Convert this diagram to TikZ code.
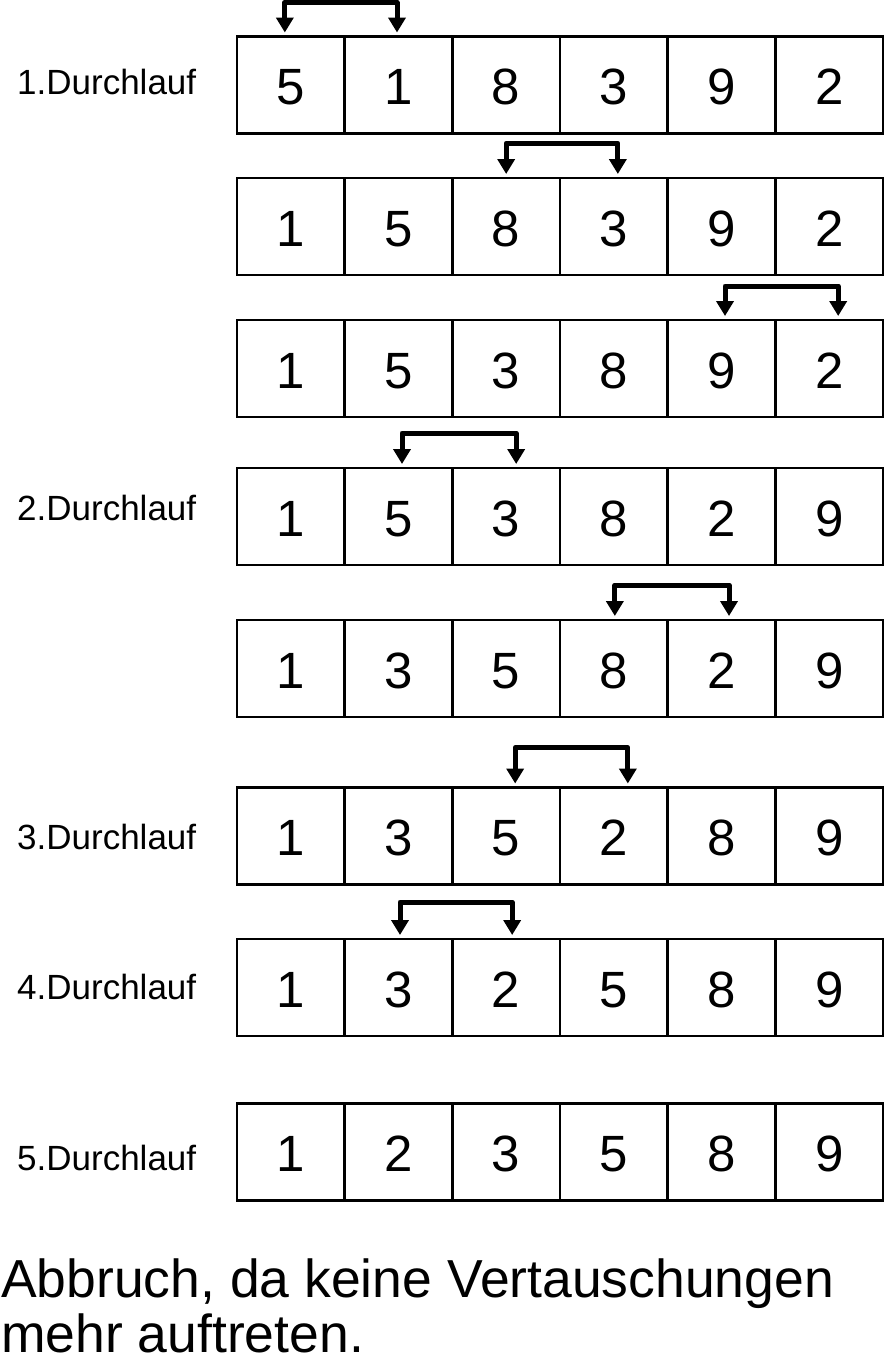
\documentclass[tikz,border=0pt]{standalone}
\usepackage{fontspec}
\setmainfont{Liberation Sans}
\usetikzlibrary{arrows.meta,calc}
\tikzset{
  cell/.style={draw, line width=2.8pt, minimum width=107.67pt, minimum height=97pt,
    inner sep=0pt, outer sep=0pt, text height=39pt, text depth=0pt,
    font=\fontsize{51}{51}\selectfont},
  passlabel/.style={anchor=base west, inner sep=0pt, font=\fontsize{35}{35}\selectfont},
  swp/.style={line width=5pt, line join=round,
    {Triangle[width=17pt,length=15pt]}-{Triangle[width=17pt,length=15pt]}},
  endtext/.style={anchor=base west, inner sep=0pt, font=\fontsize{53.5}{53.5}\selectfont}
}
\begin{document}
\begin{tikzpicture}[x=1pt,y=-1pt]
\useasboundingbox (0,0) rectangle (885,1361);
\foreach \r/\y/\vals in {1/85/{5,1,8,3,9,2}, 2/226.5/{1,5,8,3,9,2}, 3/368.5/{1,5,3,8,9,2},
  4/516.5/{1,5,3,8,2,9}, 5/668.5/{1,3,5,8,2,9}, 6/836/{1,3,5,2,8,9},
  7/987.5/{1,3,2,5,8,9}, 8/1152/{1,2,3,5,8,9}}{
  \foreach \v [count=\c] in \vals {
    \node[cell] (r\r-\c) at ({237+(\c-0.5)*107.67},\y) {\v};
  }
}
% labels
\node[passlabel] (l1) at (17,94) {1.Durchlauf};
\node[passlabel] (l2) at (17,520) {2.Durchlauf};
\node[passlabel] (l3) at (17,849) {3.Durchlauf};
\node[passlabel] (l4) at (17,999) {4.Durchlauf};
\node[passlabel] (l5) at (17,1170) {5.Durchlauf};
% swap arrows
\draw[swp] ([xshift=-6pt,yshift=4pt]r1-1.north) -- ++(0,-30) -| ([xshift=-1.5pt,yshift=4pt]r1-2.north);
\draw[swp] ([xshift=0pt,yshift=4pt]r2-3.north) -- ++(0,-31) -| ([xshift=4pt,yshift=4pt]r2-4.north);
\draw[swp] ([xshift=3.5pt,yshift=4pt]r3-5.north) -- ++(0,-30) -| ([xshift=9pt,yshift=4pt]r3-6.north);
\draw[swp] ([xshift=3.5pt,yshift=4pt]r4-2.north) -- ++(0,-31) -| ([xshift=10pt,yshift=4pt]r4-3.north);
\draw[swp] ([xshift=1pt,yshift=4pt]r5-4.north) -- ++(0,-31) -| ([xshift=7.5pt,yshift=4pt]r5-5.north);
\draw[swp] ([xshift=9pt,yshift=4pt]r6-3.north) -- ++(0,-36) -| ([xshift=14pt,yshift=4pt]r6-4.north);
\draw[swp] ([xshift=1.5pt,yshift=4pt]r7-2.north) -- ++(0,-33) -| ([xshift=6pt,yshift=4pt]r7-3.north);
% final text
\node[endtext] (t1) at (1,1297) {Abbruch, da keine Vertauschungen};
\node[endtext] (t2) at (1,1352) {mehr auftreten.};
\end{tikzpicture}
\end{document}
